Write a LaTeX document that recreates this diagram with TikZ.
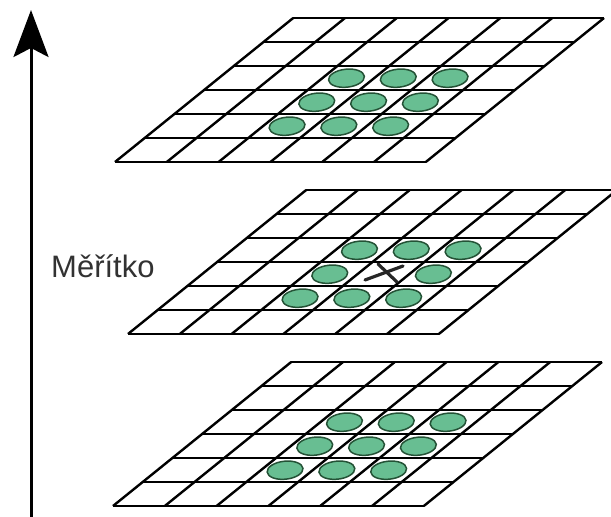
\documentclass[tikz,border=0pt]{standalone}
\usepackage{fontspec}
\newfontfamily\labelfont{Liberation Sans}
\usetikzlibrary{arrows.meta}
\definecolor{ellfill}{RGB}{104,190,146}
\definecolor{elldraw}{RGB}{36,82,54}
\definecolor{labelgray}{RGB}{50,50,50}
\tikzset{
  gridline/.style={line width=2.4bp, black, line join=miter},
  blob/.style={fill=ellfill, draw=elldraw, line width=1.5bp},
  axisline/.style={line width=3bp, black, -{Stealth[length=47bp,width=35bp,inset=9bp]}},
  crossline/.style={line width=3.2bp, black!85, line cap=round},
}
\newcommand\skewgrid[3]{%
  \begin{scope}[shift={(#1,#2)}, x={(51.8bp,0bp)}, y={(29.7bp,24bp)}]
    \foreach \i in {0,...,6} {
      \draw[gridline] (\i,0) -- (\i,6);
      \draw[gridline] (0,\i) -- (6,\i);
    }
    \foreach \c/\r in {#3} {
      \draw[blob, rotate around={6:(\c+0.5,\r+0.5)}] ([xshift=-2bp]\c+0.5,\r+0.5) ellipse [x radius=18bp, y radius=9bp];
    }
  \end{scope}}
\begin{document}
\begin{tikzpicture}[x=1bp, y=-1bp]
  \useasboundingbox (0,0) rectangle (611,517);
  \clip (0,0) rectangle (611,517);
  % grids
  \skewgrid{115}{162}{2/1,3/1,4/1,2/2,3/2,4/2,2/3,3/3,4/3}
  \skewgrid{128}{334}{2/1,3/1,4/1,2/2,4/2,2/3,3/3,4/3}
  \skewgrid{113}{506}{2/1,3/1,4/1,2/2,3/2,4/2,2/3,3/3,4/3}
  % cross in middle grid
  \draw[crossline] (365,280) -- (403,266);
  \draw[crossline] (378,264) -- (397,282);
  % axis arrow
  \coordinate (abot) at (31,520);
  \coordinate (atop) at (31,10);
  \draw[axisline] (abot) -- (atop);
  % label
  \node[anchor=base west, inner sep=0pt, text=labelgray,
        font=\labelfont\fontsize{31bp}{36bp}\selectfont] (lbl) at (51,277) {Měřítko};
\end{tikzpicture}
\end{document}
